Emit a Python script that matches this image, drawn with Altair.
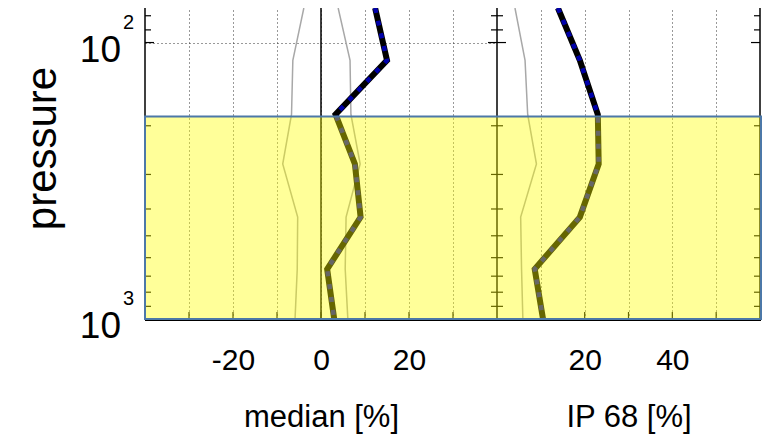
import altair as alt
import pandas as pd

# ---- data ----
pressure = [75, 116, 182, 275, 428, 660, 1000]
median_pct = [12.3, 15.0, 3.3, 7.7, 9.0, 1.4, 3.0]
median_lo = [-3.9, -6.4, -6.7, -8.7, -5.3, -5.4, -5.9]
median_hi = [3.9, 6.6, 6.8, 8.9, 5.7, 5.5, 6.1]
ip68_pct = [13.9, 18.9, 23.0, 23.2, 18.9, 8.6, 10.5]
ip68_ref = [4.1, 6.4, 7.0, 9.0, 5.4, 5.6, 5.9]

box_top = [185]
box_bottom = [1000]
y_domain = [75, 1000]
median_domain = [-40, 40]
ip68_domain = [0, 60]
median_grid = [-30, -20, -10, 0, 10, 20, 30]
ip68_grid = [10, 20, 30, 40, 50]
zero_line = [0]
major_pressure = [100, 1000]
minor_pressure = [80, 90, 200, 300, 400, 500, 600, 700, 800, 900]
exponents = ["2", "3"]

# ---- layout ----
W_LEFT = 352
W = 615
H = 311
FONT = "Liberation Sans"
GRID = "#333333"

df = pd.DataFrame({"p": pressure, "median": median_pct, "median_lo": median_lo,
                   "median_hi": median_hi, "ip68": ip68_pct, "ip68_ref": ip68_ref})

xl = alt.Scale(domain=median_domain, range=[0, W_LEFT], nice=False, zero=False)
xr = alt.Scale(domain=ip68_domain, range=[W_LEFT, W], nice=False, zero=False)
ys = alt.Scale(type="log", domain=y_domain, reverse=True, nice=False)

yaxis = alt.Axis(values=[100], grid=True, gridDash=[1, 3], gridColor=GRID, gridWidth=1,
                 labels=False, ticks=False, domain=False, title="pressure",
                 titleFont=FONT, titleFontSize=42, titleFontWeight="normal",
                 titleAngle=270, titleX=-90, titleY=140, titleAlign="center",
                 titleBaseline="alphabetic", titleColor="black")


def Y(field):
    return alt.Y(f"{field}:Q", scale=ys, axis=yaxis, title="pressure")


def xaxis(values, title):
    return alt.Axis(values=values, orient="bottom", grid=True, gridDash=[1, 3],
                    gridColor=GRID, gridWidth=1, ticks=False, tickSize=0, domain=False,
                    labelExpr="datum.value % 20 == 0 ? '' + datum.value : ''",
                    labelFont=FONT, labelFontSize=30, labelColor="black",
                    labelBaseline="alphabetic", labelPadding=50, labelFlush=False,
                    labelOverlap=False, labelBound=False,
                    title=title, titleFont=FONT, titleFontSize=31, titleFontWeight="normal",
                    titleColor="black", titleBaseline="alphabetic", titleY=107)


def line(field, scale, color, width, dash=None, axis=None):
    kw = dict(color=color, strokeWidth=width, clip=True, strokeJoin="miter")
    if dash:
        kw["strokeDash"] = dash
    return alt.Chart(df).mark_line(**kw).encode(
        x=alt.X(f"{field}:Q", scale=scale, axis=axis, title=None),
        y=Y("p"),
        order=alt.Order("p:Q"),
    )


layers = []
# grey reference lines (carry the axes)
layers.append(line("median_lo", xl, "#A8A8A8", 1.5, axis=xaxis(median_grid, "median [%]")))
layers.append(line("median_hi", xl, "#A8A8A8", 1.5))
layers.append(line("ip68_ref", xr, "#A8A8A8", 1.5, axis=xaxis(ip68_grid, "IP 68 [%]")))

# zero line in the median panel
layers.append(alt.Chart(pd.DataFrame({"v": zero_line})).mark_rule(color="black", strokeWidth=1.5).encode(
    x=alt.X("v:Q", scale=xl, axis=None), y=alt.value(0), y2=alt.value(H)))

# thick profiles
layers.append(line("median", xl, "black", 6))
layers.append(line("median", xl, "#0000AA", 4.5, dash=[5, 8]))
layers.append(line("ip68", xr, "black", 6))
layers.append(line("ip68", xr, "#0000AA", 4.5, dash=[5, 8]))

# frame
for xv in [0, W_LEFT, W]:
    layers.append(alt.Chart(pd.DataFrame({"a": [0]})).mark_rule(color="black", strokeWidth=1.5).encode(
        x=alt.value(xv), y=alt.value(0), y2=alt.value(H + 1)))
layers.append(alt.Chart(pd.DataFrame({"a": [0]})).mark_rule(color="black", strokeWidth=2).encode(
    x=alt.value(0), x2=alt.value(W + 1), y=alt.value(H + 1)))

# y ticks (inward) on each vertical edge
for vals, ln in [(major_pressure, 9), (minor_pressure, 6)]:
    for x0, x1 in [(0, ln), (W_LEFT - ln, W_LEFT + ln), (W - ln, W)]:
        layers.append(alt.Chart(pd.DataFrame({"p": vals})).mark_rule(color="black", strokeWidth=1.2).encode(
            x=alt.value(x0), x2=alt.value(x1), y=Y("p")))

# x ticks (inward) at the bottom
layers.append(alt.Chart(pd.DataFrame({"v": median_grid})).mark_rule(color="black", strokeWidth=1.2).encode(
    x=alt.X("v:Q", scale=xl, axis=None), y=alt.value(H - 7), y2=alt.value(H)))
layers.append(alt.Chart(pd.DataFrame({"v": ip68_grid})).mark_rule(color="black", strokeWidth=1.2).encode(
    x=alt.X("v:Q", scale=xr, axis=None), y=alt.value(H - 7), y2=alt.value(H)))

# highlighted layer box
layers.append(alt.Chart(pd.DataFrame({"top": box_top, "bottom": box_bottom})).mark_rect(
    fill="#FFFF00", fillOpacity=0.4, stroke="#4C78A8", strokeWidth=2, strokeOpacity=1).encode(
    x=alt.value(0), x2=alt.value(W + 1), y=Y("top"), y2="bottom:Q"))

# log tick labels 10^2, 10^3
lab = pd.DataFrame({"p": major_pressure, "e": exponents})
layers.append(alt.Chart(lab).mark_text(text="10", align="right", baseline="alphabetic", dy=19,
                                       fontSize=37, font=FONT, color="black").encode(
    x=alt.value(-24), y=Y("p")))
layers.append(alt.Chart(lab).mark_text(align="left", baseline="alphabetic", dy=-14,
                                       fontSize=20, font=FONT, color="black").encode(
    x=alt.value(-22), y=Y("p"), text="e:N"))

chart = alt.layer(*layers).resolve_scale(x="independent").resolve_axis(x="independent").properties(
    width=W, height=H,
    autosize=alt.AutoSizeParams(type="none"),
    padding={"left": 145, "top": 8, "right": 9, "bottom": 123},
    background="white",
).configure_view(stroke=None)

chart.save("out.html", embed_options={"renderer": "svg", "actions": False})
